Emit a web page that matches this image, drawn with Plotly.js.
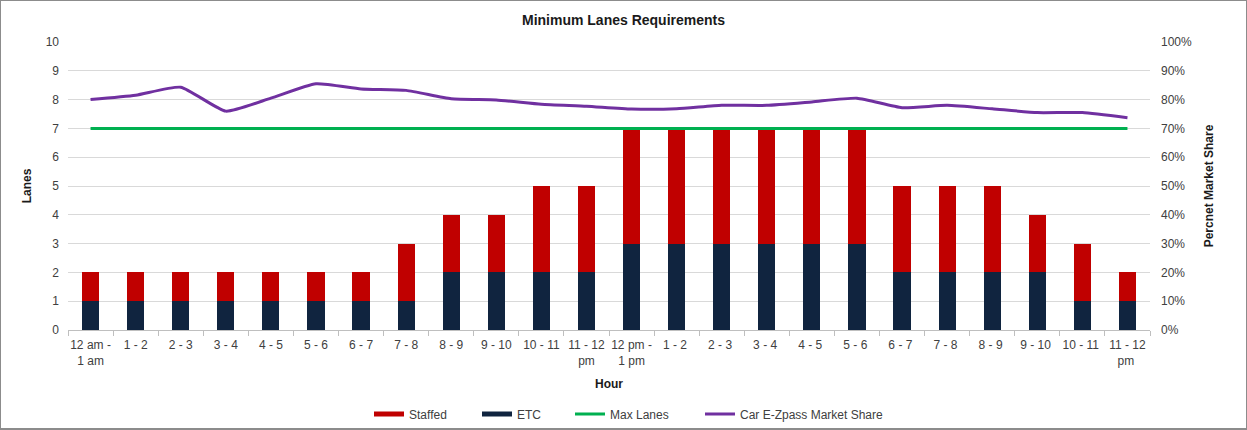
<!DOCTYPE html>
<html>
<head>
<meta charset="utf-8">
<script src="https://cdn.plot.ly/plotly-3.0.1.min.js"></script>
<style>
  html, body { margin: 0; padding: 0; background: #fff; }
  #wrap { position: absolute; left: 0; top: 0; width: 1245px; height: 427px; border: 1px solid #8c8c8c; border-width: 1px 1px 2px 1px; }
  #chart { width: 1245px; height: 427px; }
</style>
</head>
<body>
<div id="wrap"><div id="chart"></div></div>
<script>
const hours = ["12 am -<br>1 am","1 - 2","2 - 3","3 - 4","4 - 5","5 - 6","6 - 7","7 - 8","8 - 9","9 - 10","10 - 11","11 - 12<br>pm",
               "12 pm -<br>1 pm","1 - 2 ","2 - 3 ","3 - 4 ","4 - 5 ","5 - 6 ","6 - 7 ","7 - 8 ","8 - 9 ","9 - 10 ","10 - 11 ","11 - 12<br>pm "];
const etc     = [1,1,1,1,1,1,1,1,2,2,2,2,3,3,3,3,3,3,2,2,2,2,1,1];
const staffed = [1,1,1,1,1,1,1,2,2,2,3,3,4,4,4,4,4,4,3,3,3,2,2,1];
const maxLanes = [7,7,7,7,7,7,7,7,7,7,7,7,7,7,7,7,7,7,7,7,7,7,7,7];
const marketShare = [0.800,0.815,0.843,0.760,0.805,0.855,0.837,0.832,0.803,0.799,0.784,0.777,0.767,0.768,0.780,0.780,0.792,0.805,0.772,0.780,0.768,0.755,0.755,0.737];

const staffedColor = '#c00000', etcColor = '#10243f';
const font = "Liberation Sans, Arial, sans-serif";
const traces = [
  {type:'bar', name:'ETC', x:hours, y:etc, marker:{color:etcColor}, showlegend:false},
  {type:'bar', name:'Staffed', x:hours, y:staffed, marker:{color:staffedColor}, showlegend:false},
  {type:'scatter', mode:'lines', name:'Max Lanes', x:hours, y:maxLanes, line:{color:'#00b050', width:3}, legend:'legend3'},
  {type:'scatter', mode:'lines', name:'Car E-Zpass Market Share', x:hours, y:marketShare, yaxis:'y2',
   line:{color:'#7030a0', width:3, shape:'spline', smoothing:0.5}, legend:'legend4'},
  // legend keys for the stacked bars (Excel draws them as wide flat swatches)
  {type:'scatter', mode:'lines', name:'Staffed', x:[null], y:[null], line:{color:staffedColor, width:5}, legend:'legend', hoverinfo:'skip'},
  {type:'scatter', mode:'lines', name:'ETC', x:[null], y:[null], line:{color:etcColor, width:5}, legend:'legend2', hoverinfo:'skip'}
];
function leg(xpx) {
  return {orientation:'h', xref:'container', yref:'container', x:xpx/1245, xanchor:'left', y:(427-413)/427, yanchor:'middle',
          font:{size:12, color:'#404040'}, bgcolor:'rgba(0,0,0,0)'};
}
const layout = {
  width:1245, height:427,
  margin:{l:67, r:96, t:41, b:98},
  paper_bgcolor:'#fff', plot_bgcolor:'#fff',
  font:{family:font, size:12, color:'#404040'},
  title:{text:'<b>Minimum Lanes Requirements</b>', x:0.5, xanchor:'center', y:0.955, yanchor:'middle', font:{size:14, color:'#1a1a1a', family:font}},
  barmode:'stack', bargap:0.62,
  showlegend:true,
  legend:leg(368), legend2:leg(476), legend3:leg(569), legend4:leg(699),
  xaxis:{type:'category', tickson:'boundaries', ticks:'outside', ticklen:5, tickcolor:'#bfbfbf', automargin:false,
         showline:true, linecolor:'#bfbfbf', linewidth:1, showgrid:false, tickangle:0, ticklabelstandoff:4,
         tickfont:{size:12, color:'#404040'},
         title:{text:'<b>Hour</b>', font:{size:12, color:'#1a1a1a'}, standoff:12}},
  yaxis:{range:[0,10], dtick:1, showgrid:true, gridcolor:'#d9d9d9', gridwidth:1, zeroline:false, showline:false,
         ticks:'', ticklabelstandoff:8, tickfont:{size:12, color:'#404040'}, automargin:false,
         title:{text:'<b>Lanes</b>', font:{size:12, color:'#1a1a1a'}, standoff:11}},
  yaxis2:{range:[0,1], dtick:0.1, tickformat:'.0%', overlaying:'y', side:'right', showgrid:false, zeroline:false,
          ticks:'', ticklabelstandoff:10, tickfont:{size:12, color:'#404040'}, automargin:false,
          title:{text:'<b>Percnet Market Share</b>', font:{size:12, color:'#1a1a1a'}, standoff:13}}
};
Plotly.newPlot('chart', traces, layout, {displayModeBar:false, staticPlot:true});
</script>
</body>
</html>
